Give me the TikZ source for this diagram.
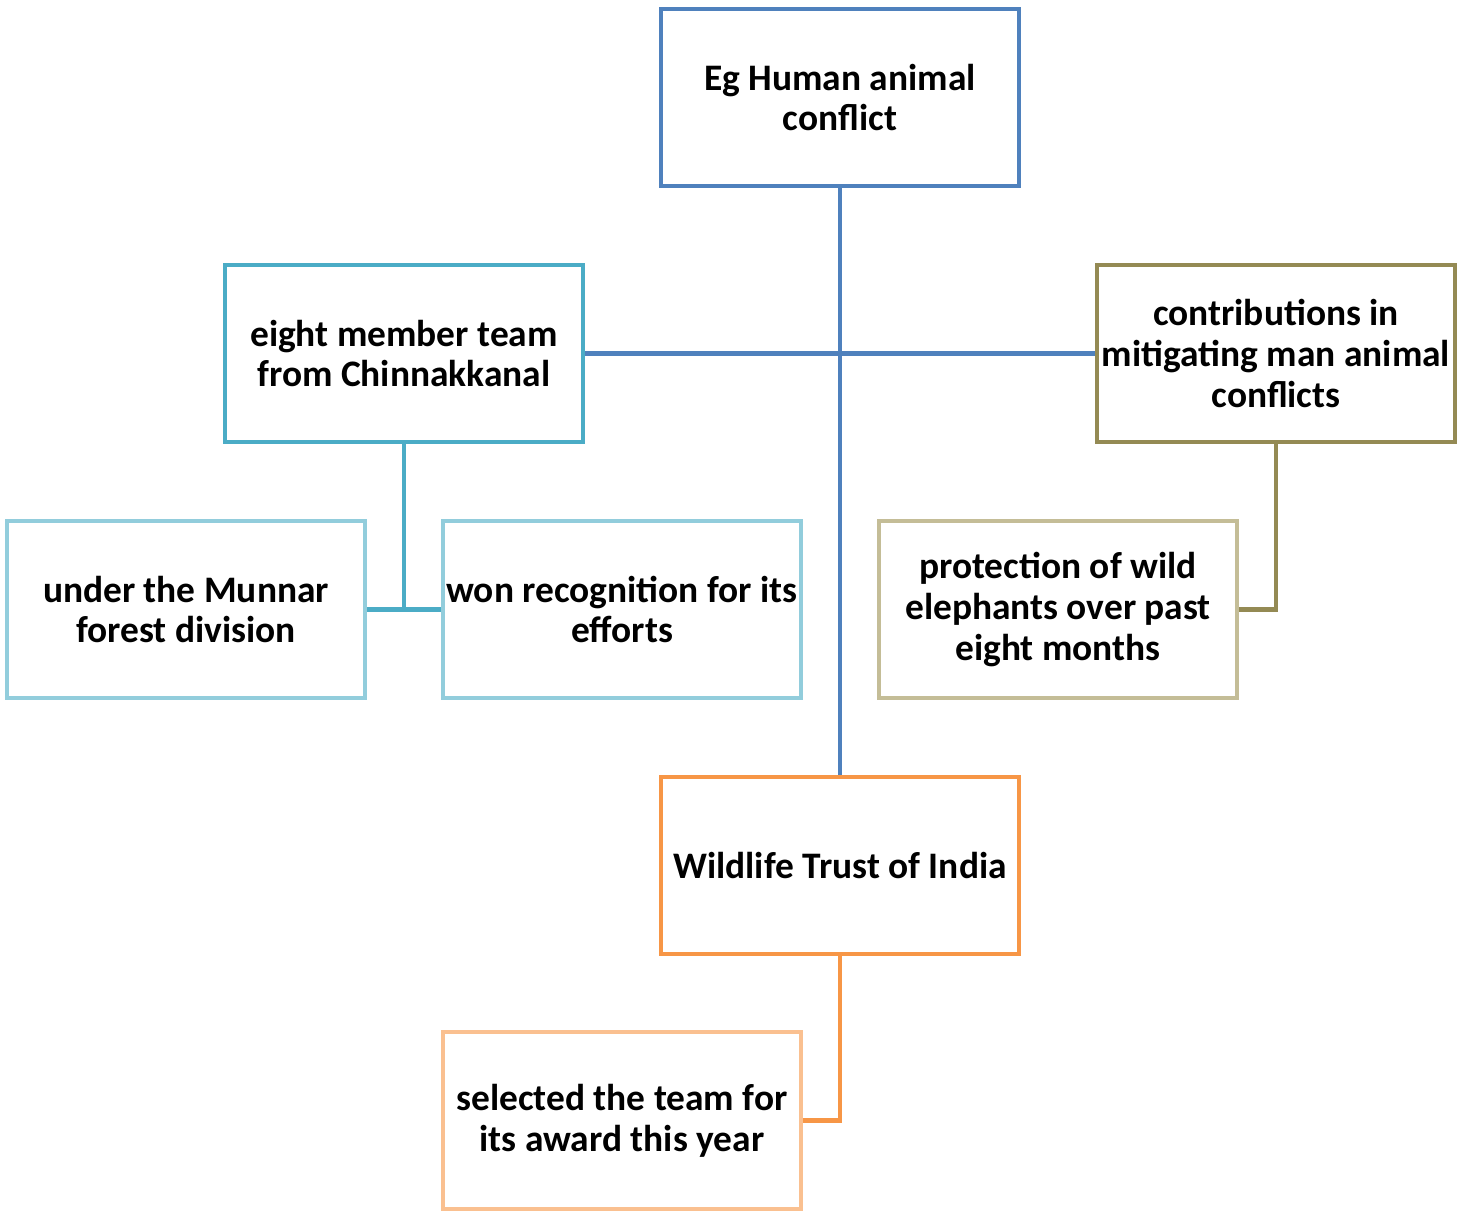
\documentclass[tikz,border=0pt]{standalone}
\usepackage{fontspec}
\setmainfont{Carlito}
\usepackage{tikz}
\definecolor{topblue}{HTML}{4F81BD}
\definecolor{teamteal}{HTML}{4BACC6}
\definecolor{lightteal}{HTML}{92CDDC}
\definecolor{olive}{HTML}{948A54}
\definecolor{lightolive}{HTML}{C4BD97}
\definecolor{wtiorange}{HTML}{F79646}
\definecolor{lightorange}{HTML}{FAC090}
\tikzset{
  box/.style={draw=#1, line width=2.27pt, fill=white, minimum width=7.16cm,
    minimum height=3.54cm, align=center, inner sep=0pt,
    font=\fontsize{21.3pt}{23.3pt}\selectfont\bfseries},
  link/.style={draw=#1, line width=2.6pt}
}
\begin{document}
\begin{tikzpicture}[x=0.02cm, y=-0.02cm]
        \useasboundingbox (0,0) rectangle (1468,1212);
        \draw[link=topblue] (840,188) -- (840,775);
        \node[box=topblue] (human) at (840,97.5) {Eg Human animal\\conflict};
        \node[box=teamteal] (team) at (404,353.5) {eight member team\\from Chinnakkanal};
        \node[box=olive] (contrib) at (1276,353.5) {contributions in\\mitigating man animal\\conflicts};
        \node[box=lightteal] (munnar) at (186,609.5) {under the Munnar\\forest division};
        \node[box=lightteal] (won) at (622,609.5) {won recognition for its\\efforts};
        \node[box=lightolive] (protect) at (1058,609.5) {protection of wild\\elephants over past\\eight months};
        \node[box=wtiorange] (wti) at (840,865.5) {Wildlife Trust of India};
        \node[box=lightorange] (select) at (622,1120.5) {selected the team for\\its award this year};
        \draw[link=topblue] (team.east) -- (contrib.west);
        \draw[link=teamteal] (team.south) |- (munnar.east);
        \draw[link=teamteal] (team.south |- won.west) -- (won.west);
        \draw[link=olive] (contrib.south) |- (protect.east);
        \draw[link=wtiorange] (wti.south) |- (select.east);
\end{tikzpicture}
\end{document}
